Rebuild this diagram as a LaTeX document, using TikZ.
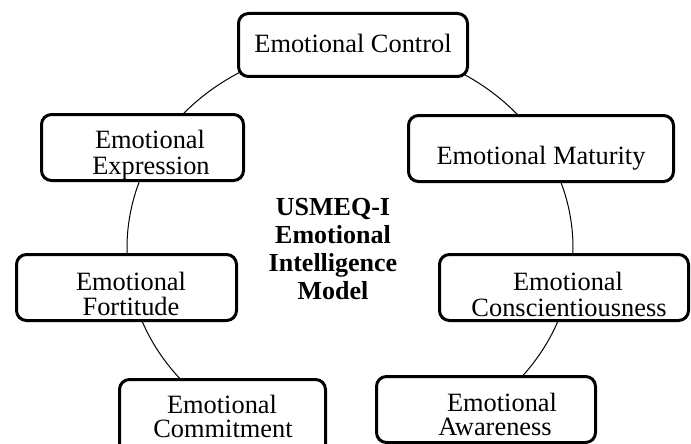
\documentclass[tikz,border=0pt]{standalone}
\usepackage{fontspec}
\setmainfont{Liberation Serif}
\begin{document}
\begin{tikzpicture}[x=1pt,y=-1pt,
  box/.style={draw=black,line width=3pt,rounded corners=10pt,fill=white,inner sep=0pt},
  txt/.style={anchor=base,inner sep=0pt,font=\fontsize{26.4}{26}\selectfont},
  ttl/.style={anchor=base,inner sep=0pt,font=\fontsize{26}{28}\selectfont\bfseries}]
\clip (0,0) rectangle (691,444);
\fill[white] (0,0) rectangle (691,444);
% ring
\draw[line width=1pt] (350,248) ellipse [x radius=223pt, y radius=202pt];
% boxes
\node[box,minimum width=229pt,minimum height=63pt] (control) at (353,45) {};
\node[box,minimum width=202pt,minimum height=66pt] (express) at (142.5,147.5) {};
\node[box,minimum width=265pt,minimum height=66pt] (matur) at (541,148.5) {};
\node[box,minimum width=220pt,minimum height=66pt] (fort) at (126.5,287.5) {};
\node[box,minimum width=249pt,minimum height=66pt] (consc) at (564,287.5) {};
\node[box,minimum width=206pt,minimum height=80pt] (commit) at (222.5,419.5) {};
\node[box,minimum width=219pt,minimum height=66pt] (aware) at (486,409.5) {};
% texts
\node[txt] (tcontrol) at (353,53) {Emotional Control};
\node[txt] (texp1) at (150,148) {Emotional};
\node[txt] (texp2) at (151,174) {Expression};
\node[txt] (tmat) at (541,164) {Emotional Maturity};
\node[txt] (tfort1) at (131,290) {Emotional};
\node[txt] (tfort2) at (131,315) {Fortitude};
\node[txt] (tcon1) at (568,290) {Emotional};
\node[txt] (tcon2) at (569,316) {Conscientiousness};
\node[txt] (tcom1) at (222,413) {Emotional};
\node[txt] (tcom2) at (223,437) {Commitment};
\node[txt] (taw1) at (502,411) {Emotional};
\node[txt] (taw2) at (495,435) {Awareness};
% title
\node[ttl] (ti1) at (333,215) {USMEQ-I};
\node[ttl] (ti2) at (333,243) {Emotional};
\node[ttl] (ti3) at (333,271.5) {Intelligence};
\node[ttl] (ti4) at (333,299) {Model};
\end{tikzpicture}
\end{document}
